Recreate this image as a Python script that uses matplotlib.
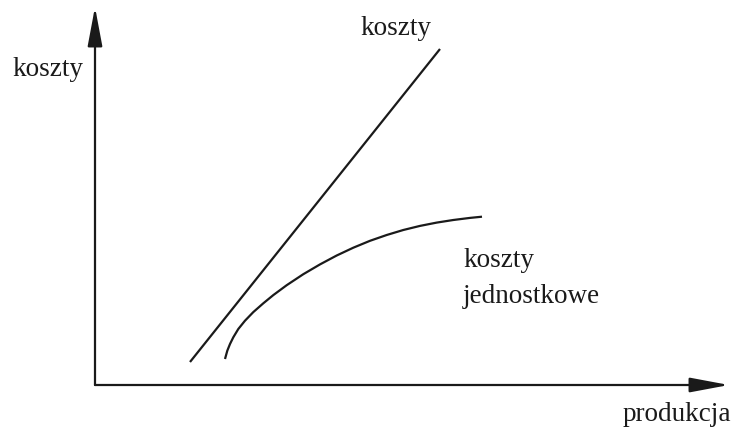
import matplotlib
matplotlib.use("Agg")
import matplotlib.pyplot as plt

# total costs (straight line) - production vs cost, in chart units
total_x = [95, 345]
total_y = [23, 336]
# unit costs (concave curve)
unit_x = [130, 132.3, 135, 138.3, 143.3, 150, 158.3, 168.3, 178.3, 191.7, 208.3,
          225, 241.7, 258.3, 275, 291.7, 308.3, 325, 341.7, 358.3, 375, 387]
unit_y = [26, 34.3, 41, 47.7, 56, 64.3, 72.9, 81.7, 89.9, 99.8, 110.8,
          120.6, 129.5, 137.3, 144.2, 150.0, 155.0, 159.1, 162.4, 165.0, 167.1, 168.3]

y_label = "koszty"
x_label = "produkcja"
total_label = "koszty"
unit_label_lines = ["koszty", "jednostkowe"]

W, H = 732, 431
fig = plt.figure(figsize=(W / 100, H / 100), dpi=100)
ox, oy = 95, 386
ax = fig.add_axes([ox / W, (H - oy) / H, (W - ox) / W, oy / H])
ax.set_xlim(0, W - ox)
ax.set_ylim(0, oy)
ax.axis("off")

col = "#1a1a1a"
font = dict(family="Liberation Serif", color=col)

ax.plot(total_x, total_y, color=col, lw=1.6, solid_capstyle="butt")
ax.plot(unit_x, unit_y, color=col, lw=1.6, solid_capstyle="butt",
        solid_joinstyle="round")

# axes with arrows
ax.annotate("", xy=(0, oy - 8), xytext=(0, 0),
            arrowprops=dict(arrowstyle="-|>,head_length=2.4,head_width=0.45",
                            color=col, lw=1.6, shrinkA=0, shrinkB=0),
            annotation_clip=False)
ax.annotate("", xy=(W - ox - 3, 0), xytext=(0, 0),
            arrowprops=dict(arrowstyle="-|>,head_length=2.4,head_width=0.45",
                            color=col, lw=1.6, shrinkA=0, shrinkB=0),
            annotation_clip=False)

fs = 19.5
fig.text(12 / W, 1 - 76 / H, y_label, fontsize=fs, ha="left", va="baseline", **font)
fig.text(731 / W, 1 - 421 / H, x_label, fontsize=fs, ha="right", va="baseline", **font)
fig.text(360 / W, 1 - 35 / H, total_label, fontsize=fs, ha="left", va="baseline", **font)
for i, line in enumerate(unit_label_lines):
    fig.text(463 / W, 1 - (267 + 36 * i) / H, line, fontsize=fs, ha="left",
             va="baseline", **font)

fig.savefig("out.png", dpi=100, facecolor="white")
